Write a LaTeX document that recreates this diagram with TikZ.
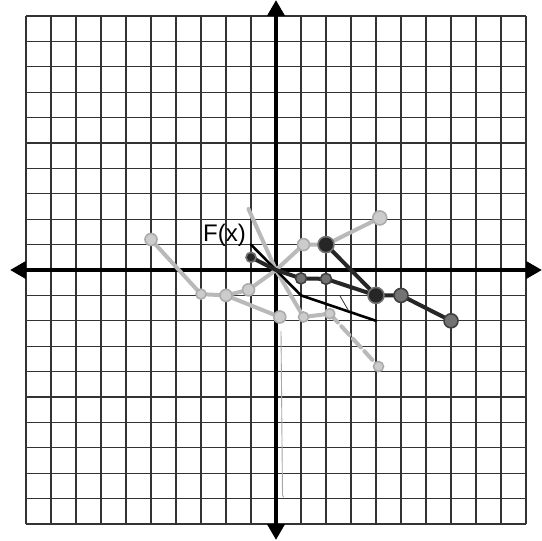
\documentclass[tikz,border=0pt]{standalone}
\usepackage{fontspec}
\setmainfont{Liberation Sans}
\usetikzlibrary{arrows.meta}
\begin{document}
\begin{tikzpicture}[x=25pt,y=25.4pt,
  gridline/.style={black!80,line width=1.1pt},
  axis/.style={black,line width=4.5pt,{Triangle[length=16pt,width=17pt]}-{Triangle[length=16pt,width=17pt]}},
  fline/.style={black,line width=2.6pt,line cap=round,line join=round},
  thinline/.style={black!80,line width=0.8pt},
  pencil/.style={gray!70,line width=0.9pt},
  dline/.style={black!85,line width=4pt,line cap=round,line join=round},
  gline/.style={gray!55,line width=4pt,line cap=round,line join=round},
  gdash/.style={gline,dash pattern=on 12pt off 5pt},
  gdot/.style={fill=gray!40,draw=gray!65,line width=1.6pt},
  ddot/.style={fill=black!85,draw=black!55,line width=1.6pt},
  mdot/.style={fill=black!55,draw=black!75,line width=1.6pt},
  lbl/.style={font=\fontsize{24}{24}\selectfont,inner sep=0pt}]
\useasboundingbox (-11.04,-10.63) rectangle (10.64,10.63);
\fill[white] (-11.04,-10.63) rectangle (10.64,10.63);
% grid
\foreach \i in {-10,...,10} {
  \draw[gridline] (\i,-10) -- (\i,10);
  \draw[gridline] (-10,\i) -- (10,\i);
}
% axes
\coordinate (xl) at (-10.64,0);
\coordinate (xr) at (10.64,0);
\coordinate (yt) at (0,10.63);
\coordinate (yb) at (0,-10.63);
\draw[axis] (xl) -- (xr);
\draw[axis] (yb) -- (yt);
% points
\coordinate (O) at (0,0);
\coordinate (f1) at (-1,1);
\coordinate (f2) at (1,-1);
\coordinate (f3) at (4,-2);
\coordinate (d0) at (-1,0.5);
\coordinate (d1) at (1,-0.33);
\coordinate (d2) at (2,-0.35);
\coordinate (d3) at (4,-1);
\coordinate (d4) at (5,-1);
\coordinate (d5) at (7,-2);
\coordinate (e1) at (2,1);
\coordinate (a1) at (-5,1.2);
\coordinate (a2) at (-3,-0.95);
\coordinate (a3) at (-2,-1);
\coordinate (a4) at (-1.1,-0.78);
\coordinate (a5) at (1.1,1);
\coordinate (a6) at (4.15,2.05);
\coordinate (b1) at (0.15,-1.85);
\coordinate (c0) at (-1.1,2.4);
\coordinate (c1) at (1.1,-1.85);
\coordinate (c2) at (2.15,-1.72);
\coordinate (c3) at (4.1,-3.8);
\coordinate (s1) at (2.56,-1.02);
\coordinate (s2) at (2.9,-1.6);
\coordinate (p1) at (0.2,-2.4);
\coordinate (p2) at (0.26,-8.85);
\coordinate (p3) at (0.3,-8.95);
% grey sketches
\draw[gline] (a1) -- (a2) -- (a3) -- (a4) -- (O) -- (a5) -- (e1) -- (a6);
\draw[gline] (a3) -- (b1);
\draw[gline] (c0) -- (O) -- (c1) -- (c2);
\draw[gdash] (c2) -- (c3);
\draw[pencil] (p1) -- (p2) -- (p3);
% F(x)
\draw[fline] (f1) -- (O) -- (f2) -- (f3);
\draw[thinline] (s1) -- (s2);
% dark function
\draw[dline] (d0) -- (O) -- (d1) -- (d2) -- (d3) -- (d4) -- (d5);
\draw[dline] (e1) -- (d3);
% dots
\foreach \p/\r in {a1/6pt,a2/5pt,a3/6pt,a4/6pt,a5/6pt,a6/7pt,b1/6pt,c1/5pt,c2/5pt,c3/5pt}
  \draw[gdot] (\p) circle[radius=\r];
\foreach \p/\r in {e1/8pt,d3/8pt,d0/5pt}
  \draw[ddot] (\p) circle[radius=\r];
\foreach \p/\r in {d1/5.5pt,d2/5.5pt,d4/7pt,d5/7pt}
  \draw[mdot] (\p) circle[radius=\r];
% label
\node[lbl] (fx) at (-2.06,1.38) {F(x)};
\end{tikzpicture}
\end{document}
